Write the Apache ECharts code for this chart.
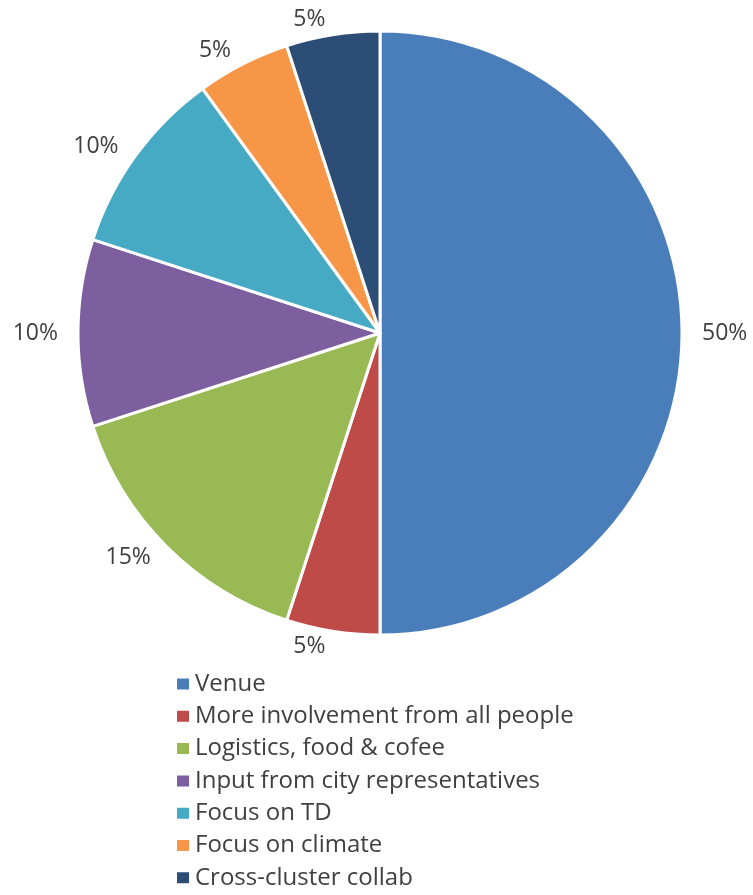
<!DOCTYPE html>
<html>
<head>
<meta charset="utf-8">
<script src="https://cdn.jsdelivr.net/npm/echarts@6/dist/echarts.min.js"></script>
<style>
html,body{margin:0;padding:0;background:#fff;}
#chart{width:753px;height:895px;}
</style>
</head>
<body>
<div id="chart"></div>
<script>
const categories = ['Venue', 'More involvement from all people', 'Logistics, food & cofee', 'Input from city representatives', 'Focus on TD', 'Focus on climate', 'Cross-cluster collab'];
const values = [50, 5, 15, 10, 10, 5, 5];
const colors = ['#4a7ebb', '#be4b48', '#98b954', '#7d5fa0', '#46aac5', '#f79646', '#2c4d75'];

const chart = echarts.init(document.getElementById('chart'), null, {renderer: 'canvas'});
chart.setOption({
  animation: false,
  color: colors,
  legend: {
    orient: 'vertical',
    left: 170,
    top: 667,
    itemWidth: 14,
    itemHeight: 13,
    itemGap: 8.3,
    icon: 'rect',
    textStyle: {fontFamily: 'Open Sans', fontSize: 24, color: '#404040'},
    data: categories
  },
  series: [{
    type: 'pie',
    center: [380, 333],
    radius: [0, 302],
    startAngle: 90,
    clockwise: true,
    avoidLabelOverlap: false,
    itemStyle: {borderColor: '#ffffff', borderWidth: 3},
    label: {
      show: true,
      position: 'outside',
      formatter: '{d}%',
      fontFamily: 'Open Sans',
      fontSize: 23,
      color: '#404040'
    },
    labelLine: {show: false, length: 15, length2: 0},
    emphasis: {disabled: true},
    data: categories.map((c, i) => ({name: c, value: values[i]}))
  }]
});
</script>
</body>
</html>
